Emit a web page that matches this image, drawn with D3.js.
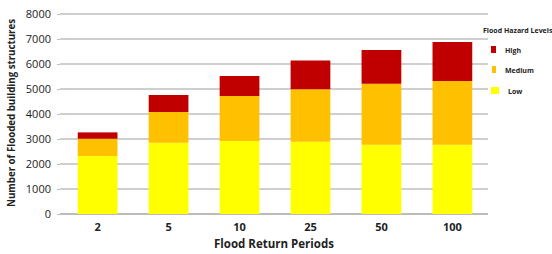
<!DOCTYPE html>
<html>
<head>
<meta charset="utf-8">
<script src="https://cdn.jsdelivr.net/npm/d3@7"></script>
<style>
body { margin: 0; background: #fff; }
text { font-family: "Open Sans", "Liberation Sans", sans-serif; }
</style>
</head>
<body>
<svg id="chart" width="552" height="254"></svg>
<script>
var periods = ["2", "5", "10", "25", "50", "100"];
var levels = ["Low", "Medium", "High"];
var lowValues = [2320, 2850, 2920, 2890, 2770, 2770];
var mediumValues = [690, 1230, 1800, 2100, 2440, 2550];
var highValues = [255, 680, 800, 1150, 1350, 1560];
var yTicks = [0, 1000, 2000, 3000, 4000, 5000, 6000, 7000, 8000];
var colors = {Low: "#FFFF00", Medium: "#FFC000", High: "#C00000"};

var svg = d3.select("#chart");
var plotLeft = 60, plotRight = 488, plotTop = 14, plotBottom = 214;

// rows for the stack
var rows = periods.map(function(p, i) {
    return {period: p, Low: lowValues[i], Medium: mediumValues[i], High: highValues[i]};
});
var series = d3.stack().keys(levels)(rows);

var x = d3.scaleBand().domain(periods).range([plotLeft, 490]).paddingInner(0.44).paddingOuter(0.25);
var y = d3.scaleLinear().domain([0, 8000]).range([plotBottom, plotTop]);

// gridlines
svg.append("g").selectAll("line").data(yTicks).enter().append("line")
    .attr("x1", plotLeft).attr("x2", plotRight)
    .attr("y1", function(d){ return y(d); }).attr("y2", function(d){ return y(d); })
    .attr("stroke", function(d){ return d == 0 ? "#a6a6a6" : "#bfbfbf"; })
    .attr("stroke-width", 1.3);

// y axis labels
var yAxis = d3.axisLeft(y).tickValues(yTicks).tickSize(3).tickPadding(6).tickFormat(d3.format("d"));
var ya = svg.append("g").attr("transform", "translate(" + plotLeft + ",0)").call(yAxis);
ya.select(".domain").remove();
ya.selectAll("line").attr("stroke", "#bfbfbf");
ya.selectAll("text").attr("font-size", 11).attr("fill", "#222");

// bars
svg.append("g").selectAll("g").data(series).enter().append("g")
    .attr("fill", function(d){ return colors[d.key]; })
    .selectAll("rect").data(function(d){ return d; }).enter().append("rect")
    .attr("x", function(d){ return x(d.data.period); })
    .attr("width", x.bandwidth())
    .attr("y", function(d){ return y(d[1]); })
    .attr("height", function(d){ return y(d[0]) - y(d[1]); });

// x axis labels
var xAxis = d3.axisBottom(x).tickSize(0).tickPadding(9);
var xa = svg.append("g").attr("transform", "translate(0," + plotBottom + ")").call(xAxis);
xa.select(".domain").remove();
xa.selectAll("text").attr("font-size", 11).attr("font-weight", "bold").attr("fill", "#222");

// axis titles
svg.append("text").attr("x", 274).attr("y", 248)
    .attr("text-anchor", "middle").attr("font-size", 11.5).attr("font-weight", "bold").attr("fill", "#222")
    .text("Flood Return Periods");
svg.append("text").attr("transform", "translate(15," + 113 + ") rotate(-90)")
    .attr("text-anchor", "middle").attr("font-size", 10).attr("font-weight", "bold").attr("fill", "#222")
    .attr("textLength", 188).attr("lengthAdjust", "spacingAndGlyphs")
    .text("Number of Flooded building structures");

// legend
var legend = svg.append("g");
legend.append("text").attr("x", 483).attr("y", 33).attr("font-size", 7).attr("font-weight", "bold").attr("fill", "#222")
    .text("Flood Hazard Levels");
var legendItems = ["High", "Medium", "Low"];
var lg = legend.selectAll("g.item").data(legendItems).enter().append("g").attr("class", "item")
    .attr("transform", function(d, i){ return "translate(491," + [46, 66, 87][i] + ")"; });
lg.append("rect").attr("width", function(d){ return d == "Low" ? 8 : (d == "Medium" ? 4 : 5); })
    .attr("height", 7).attr("x", function(d){ return d == "Medium" ? 1 : 0; })
    .attr("fill", function(d){ return colors[d]; });
lg.append("text").attr("x", function(d){ return d == "Low" ? 17 : 14; }).attr("y", 6.5)
    .attr("font-size", 7).attr("font-weight", "bold").attr("fill", "#222").text(function(d){ return d; });
</script>
</body>
</html>
